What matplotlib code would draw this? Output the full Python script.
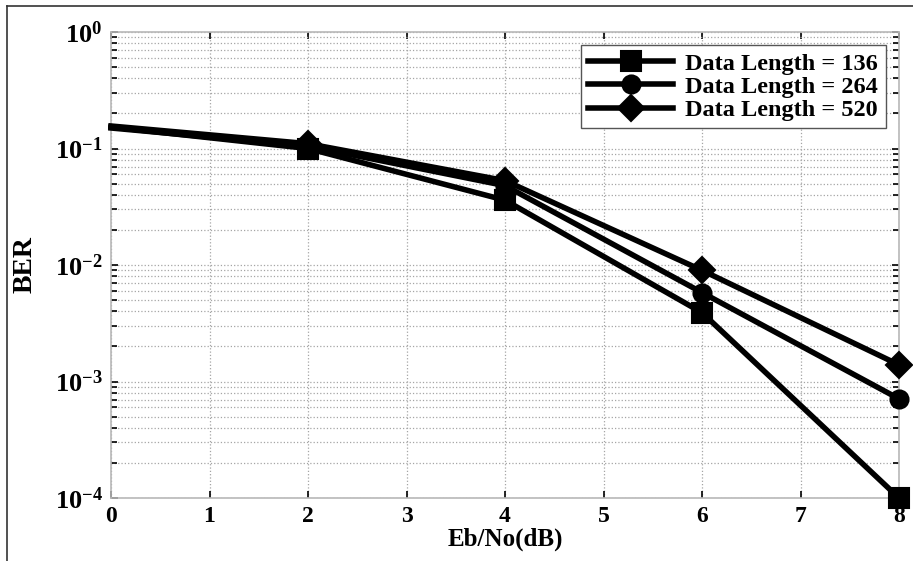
import numpy as np
import matplotlib
matplotlib.use("Agg")
import matplotlib.pyplot as plt
from matplotlib.ticker import LogLocator, NullFormatter, FixedLocator
from matplotlib.lines import Line2D

plt.rcParams["font.family"] = ["Liberation Serif", "DejaVu Serif"]
plt.rcParams["font.weight"] = "bold"
plt.rcParams["mathtext.fontset"] = "custom"
plt.rcParams["mathtext.rm"] = "Liberation Serif:bold"
plt.rcParams["mathtext.bf"] = "Liberation Serif:bold"
plt.rcParams["mathtext.it"] = "Liberation Serif:bold"

ebno = [0, 2, 4, 6, 8]
ber_136 = [0.153, 0.100, 0.036, 0.0039, 0.0001]
ber_264 = [0.150, 0.105, 0.048, 0.0058, 0.00071]
ber_520 = [0.156, 0.110, 0.053, 0.0090, 0.00139]
labels = ["Data Length = 136", "Data Length = 264", "Data Length = 520"]
markers = ["s", "o", "D"]
msizes = [14, 13, 13]

fig = plt.figure(figsize=(9.13, 5.61), dpi=100)
ax = fig.add_axes([111 / 913, 1 - 498 / 561, (899 - 111) / 913, (498 - 32) / 561])

for y, lab, m, ms in zip([ber_136, ber_264, ber_520], labels, markers, msizes):
    ax.semilogy(ebno, y, color="black", lw=4, marker=m, ms=ms, markevery=[1, 2, 3, 4],
                mfc="black", mec="black", mew=1.5, label=lab, clip_on=False, zorder=3)

ax.set_xlim(0, 8)
ax.set_ylim(1e-4, 1)
ax.set_xticks(range(9))
ax.set_xticklabels([str(i) for i in range(9)], fontsize=17, fontweight="bold")
ax.yaxis.set_major_locator(FixedLocator([1e-4, 1e-3, 1e-2, 1e-1, 1]))
ax.set_yticklabels([r"$10^{-4}$", r"$10^{-3}$", r"$10^{-2}$", r"$10^{-1}$", r"$10^{0}$"], fontsize=19)
ax.yaxis.set_minor_locator(LogLocator(base=10, subs=np.arange(2, 10), numticks=20))
ax.yaxis.set_minor_formatter(NullFormatter())

ax.tick_params(which="both", direction="in", top=True, right=True, color="black")
ax.tick_params(which="major", length=5, width=1.2, pad=6)
ax.tick_params(which="minor", length=4, width=1.2)
ax.grid(True, which="major", color="#a5a5a5", ls=":", lw=0.9)
ax.grid(True, which="minor", axis="y", color="#a5a5a5", ls=":", lw=0.9)
for sp in ax.spines.values():
    sp.set_color("#b8b8b8")
    sp.set_linewidth(1.2)

ax.set_xlabel("Eb/No(dB)", fontsize=18, fontweight="bold", labelpad=0)
ax.set_ylabel("BER", fontsize=20, fontweight="bold", labelpad=12)

leg = ax.legend(loc="upper right", handlelength=3.5, borderaxespad=0.55,
                fancybox=False, framealpha=1, edgecolor="#555555",
                prop={"weight": "bold", "size": 17.5}, labelspacing=0.05,
                borderpad=0.3, handletextpad=0.5)
leg.get_frame().set_linewidth(1.0)

# figure border on top and left
fig.add_artist(Line2D([7 / 913, 7 / 913], [0, 1 - 6 / 561], transform=fig.transFigure, color="#333333", lw=1.2))
fig.add_artist(Line2D([7 / 913, 1], [1 - 6 / 561, 1 - 6 / 561], transform=fig.transFigure, color="#333333", lw=1.2))

fig.savefig("out.png", dpi=100)
